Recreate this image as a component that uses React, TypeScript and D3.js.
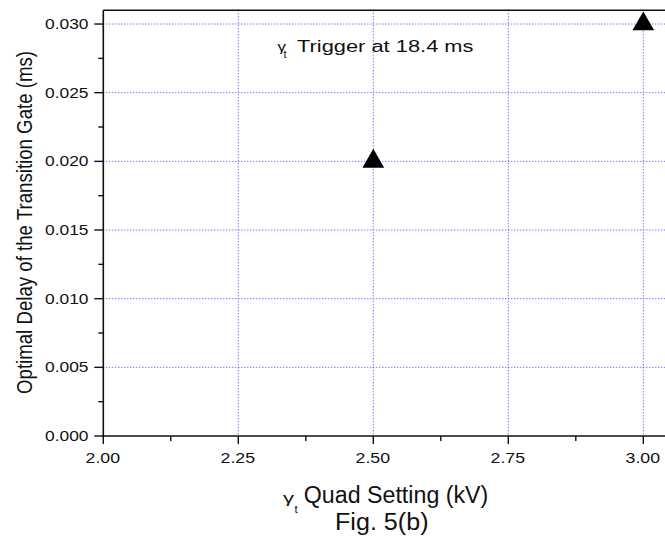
import React from "react";
import * as d3 from "d3";

const xValues = [2.5, 3.0];
const yValues = [0.02, 0.03];
const xTicks = [2.0, 2.25, 2.5, 2.75, 3.0];
const xTickLabels = ["2.00", "2.25", "2.50", "2.75", "3.00"];
const xMinor = [2.125, 2.375, 2.625, 2.875];
const yTicks = [0, 0.005, 0.01, 0.015, 0.02, 0.025, 0.03];
const yTickLabels = ["0.000", "0.005", "0.010", "0.015", "0.020", "0.025", "0.030"];
const yMinor = [0.0025, 0.0075, 0.0125, 0.0175, 0.0225, 0.0275];

const W = 665;
const H = 538;
const FONT = "'Liberation Sans', Arial, Helvetica, sans-serif";

export default function App() {
  const x = d3.scaleLinear().domain([2.0, 3.05]).range([103.3, 670.3]);
  const y = d3.scaleLinear().domain([0, 0.031]).range([436, 10.3]);
  const left = x(2.0);
  const bottom = y(0);
  const top = y(0.031);
  const tri = d3.symbol().type(d3.symbolTriangle).size(205)();
  const grid = "#3c3cff";

  return (
    <svg
      width={W}
      height={H}
      style={{ position: "absolute", left: 0, top: 0, background: "#fff" }}
      fontFamily={FONT}
    >
      <rect x={0} y={0} width={W} height={H} fill="#fff" />
      {/* grid */}
      {yTicks.slice(1).map((t) => (
        <line
          key={"gy" + t}
          x1={left}
          x2={W}
          y1={y(t)}
          y2={y(t)}
          stroke={grid}
          strokeWidth={1}
          strokeDasharray="1,2"
        />
      ))}
      {xTicks.slice(1).map((t) => (
        <line
          key={"gx" + t}
          x1={x(t)}
          x2={x(t)}
          y1={top}
          y2={bottom}
          stroke={grid}
          strokeWidth={1}
          strokeDasharray="1,2"
        />
      ))}
      {/* frame */}
      <line x1={left} x2={W} y1={top} y2={top} stroke="#111" strokeWidth={1.6} />
      <line x1={left} x2={left} y1={top} y2={bottom + 0.8} stroke="#111" strokeWidth={1.6} />
      <line x1={left - 0.8} x2={W} y1={bottom} y2={bottom} stroke="#111" strokeWidth={1.6} />
      {/* y ticks */}
      {yTicks.map((t, i) => (
        <g key={"yt" + t}>
          <line x1={left - 9} x2={left} y1={y(t)} y2={y(t)} stroke="#111" strokeWidth={1.4} />
          <text
            x={88.5}
            y={y(t) + 5}
            textAnchor="end"
            fontSize={14.5}
            textLength={43.5}
            lengthAdjust="spacingAndGlyphs"
            fill="#111"
          >
            {yTickLabels[i]}
          </text>
        </g>
      ))}
      {yMinor.map((t) => (
        <line key={"ym" + t} x1={left - 5} x2={left} y1={y(t)} y2={y(t)} stroke="#111" strokeWidth={1.4} />
      ))}
      {/* x ticks */}
      {xTicks.map((t, i) => (
        <g key={"xt" + t}>
          <line x1={x(t)} x2={x(t)} y1={bottom} y2={bottom + 8} stroke="#111" strokeWidth={1.4} />
          <text
            x={x(t) - 0.5}
            y={463}
            textAnchor="middle"
            fontSize={14.5}
            textLength={34.5}
            lengthAdjust="spacingAndGlyphs"
            fill="#111"
          >
            {xTickLabels[i]}
          </text>
        </g>
      ))}
      {xMinor.map((t) => (
        <line key={"xm" + t} x1={x(t)} x2={x(t)} y1={bottom} y2={bottom + 5} stroke="#111" strokeWidth={1.4} />
      ))}
      {/* data */}
      {xValues.map((v, i) => (
        <path key={"p" + i} d={tri || ""} transform={`translate(${x(v)},${y(yValues[i])})`} fill="#000" />
      ))}
      {/* annotation */}
      <text x={277.5} y={50.5} fontSize={13.5} textLength={8.5} lengthAdjust="spacingAndGlyphs" fill="#111">γ</text>
      <text x={283.5} y={58} fontSize={11} fill="#111">t</text>
      <text
        x={297}
        y={52.3}
        fontSize={17.3}
        textLength={176.5}
        lengthAdjust="spacingAndGlyphs"
        fill="#111"
      >
        Trigger at 18.4 ms
      </text>
      {/* y title */}
      <text
        transform="translate(31.5,222.5) rotate(-90) scale(1,1.18)"
        textAnchor="middle"
        fontSize={18.7}
        textLength={343}
        lengthAdjust="spacingAndGlyphs"
        fill="#111"
      >
        Optimal Delay of the Transition Gate (ms)
      </text>
      {/* x title */}
      <text x={283} y={502.5} fontSize={15} textLength={11} lengthAdjust="spacingAndGlyphs" fill="#111">γ</text>
      <text x={294.5} y={513} fontSize={11.5} fill="#111">t</text>
      <text
        x={303.8}
        y={503}
        fontSize={23}
        textLength={184.5}
        lengthAdjust="spacingAndGlyphs"
        fill="#111"
      >
        Quad Setting (kV)
      </text>
      <text
        x={335}
        y={530}
        fontSize={23.5}
        textLength={93.5}
        lengthAdjust="spacingAndGlyphs"
        fill="#111"
      >
        Fig. 5(b)
      </text>
    </svg>
  );
}
